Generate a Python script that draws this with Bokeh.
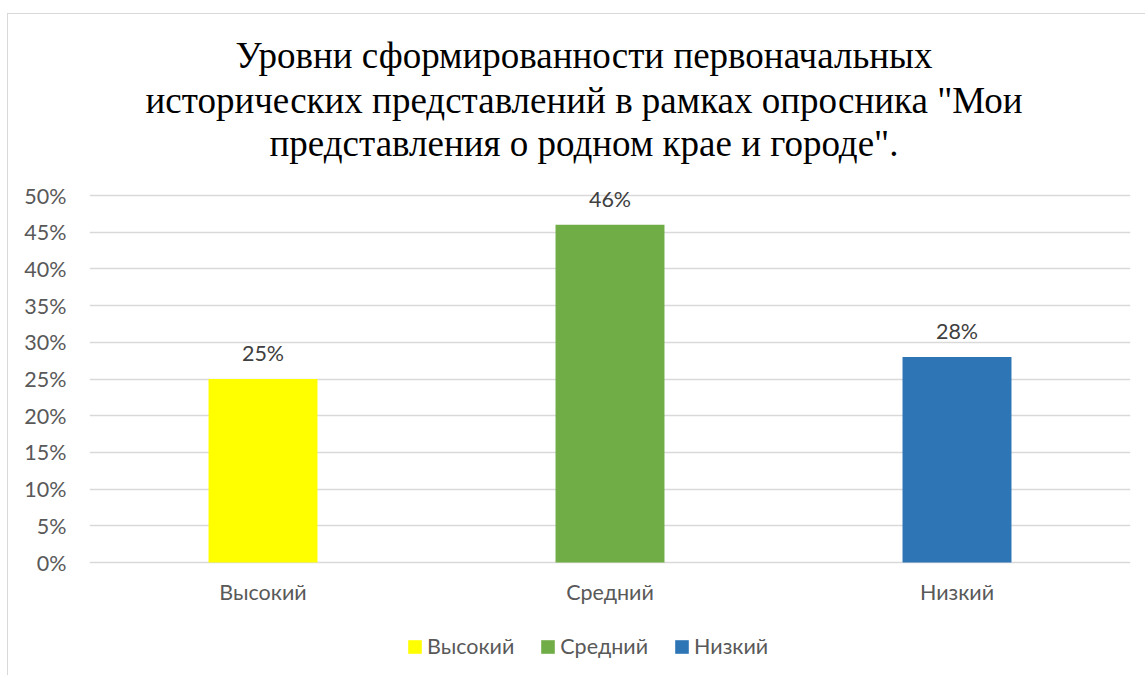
from bokeh.plotting import figure
from bokeh.models import (ColumnDataSource, FactorRange, Range1d, NumeralTickFormatter,
                          FixedTicker, Legend, LegendItem)
from bokeh.core.properties import value
from bokeh.embed import file_html
from bokeh.resources import INLINE

# ---- data ----
title_lines = [
    "Уровни сформированности первоначальных",
    "исторических представлений в рамках опросника \"Мои",
    "представления о родном крае и городе\".",
]
categories = ["Высокий", "Средний", "Низкий"]
values = [0.25, 0.46, 0.28]
value_labels = ["25%", "46%", "28%"]
colors = ["#FFFF00", "#70AD47", "#2E75B6"]
y_ticks = [0.0, 0.05, 0.10, 0.15, 0.20, 0.25, 0.30, 0.35, 0.40, 0.45, 0.50]

SANS = "Lato"
SERIF = "Liberation Serif"
FS = "21.5px"

# ---- layout (pixels) ----
W, H = 1138, 662
FRAME_L, FRAME_R = 81, 16
PLOT_H_PX = 367            # height of the 0..50% value band
ZERO_FROM_TOP = 548        # canvas px from top to the 0% line
px_per_unit = PLOT_H_PX / 0.5
y_end = ZERO_FROM_TOP / px_per_unit
y_start = -(H - ZERO_FROM_TOP) / px_per_unit

src = ColumnDataSource(dict(cat=categories, val=values, lab=value_labels, color=colors,
                            zero=[0.0] * len(categories)))

p = figure(x_range=FactorRange(*categories, range_padding=0), y_range=Range1d(y_start, y_end),
           width=W, height=H, output_backend="svg", toolbar_location=None,
           min_border_left=FRAME_L, min_border_right=FRAME_R,
           min_border_top=0, min_border_bottom=0,
           background_fill_color="white", border_fill_color="white")
p.outline_line_color = None
p.styles = {"border-left": "1px solid #d9d9d9", "border-top": "1px solid #d9d9d9",
            "margin-left": "7px", "margin-top": "13px"}

r = p.vbar(x="cat", top="val", width=0.314, fill_color="color", line_color=None, source=src)

# value labels
p.text(x="cat", y="val", text="lab", source=src, text_align="center", text_baseline="middle",
       y_offset=-26, text_font=value(SANS), text_font_size=FS, text_color="#404040")

# category labels under the bars
p.text(x="cat", y="zero", text="cat", source=src, text_align="center", text_baseline="middle",
       y_offset=29, text_font=value(SANS), text_font_size=FS, text_color="#595959")
p.xaxis.visible = False

# y axis
p.yaxis.ticker = FixedTicker(ticks=y_ticks)
p.yaxis.formatter = NumeralTickFormatter(format="0%")
ax = p.yaxis[0]
ax.axis_line_color = None
ax.major_tick_line_color = None
ax.minor_tick_line_color = None
ax.major_tick_out = 0
ax.major_tick_in = 0
ax.major_label_text_font = SANS
ax.major_label_text_font_size = FS
ax.major_label_text_color = "#595959"
ax.major_label_standoff = 23

p.xgrid.grid_line_color = None
p.ygrid.ticker = FixedTicker(ticks=y_ticks)
p.ygrid.grid_line_color = "#d9d9d9"
p.ygrid.grid_line_width = 1.5

# title (three centred lines above the value band)
title_baseline_px = [507, 462, 419]   # px above the 0% line
tsrc = ColumnDataSource(dict(x=["Средний"] * 3, y=[b / px_per_unit for b in title_baseline_px],
                             t=title_lines))
p.text(x="x", y="y", text="t", source=tsrc, x_offset=-26, text_align="center",
       text_baseline="alphabetic", text_font=value(SERIF), text_font_size="37px",
       text_color="#000000")

# legend
items = [LegendItem(label=c, renderers=[r], index=i) for i, c in enumerate(categories)]
legend = Legend(items=items, orientation="horizontal", location=(317, 17),
                border_line_color=None, background_fill_alpha=0, padding=0, margin=0,
                spacing=25, label_standoff=4, glyph_width=17, glyph_height=17, label_height=20,
                label_text_font=SANS, label_text_font_size=FS, label_text_color="#595959")
p.add_layout(legend)

open("out.html", "w").write(file_html(p, INLINE))
